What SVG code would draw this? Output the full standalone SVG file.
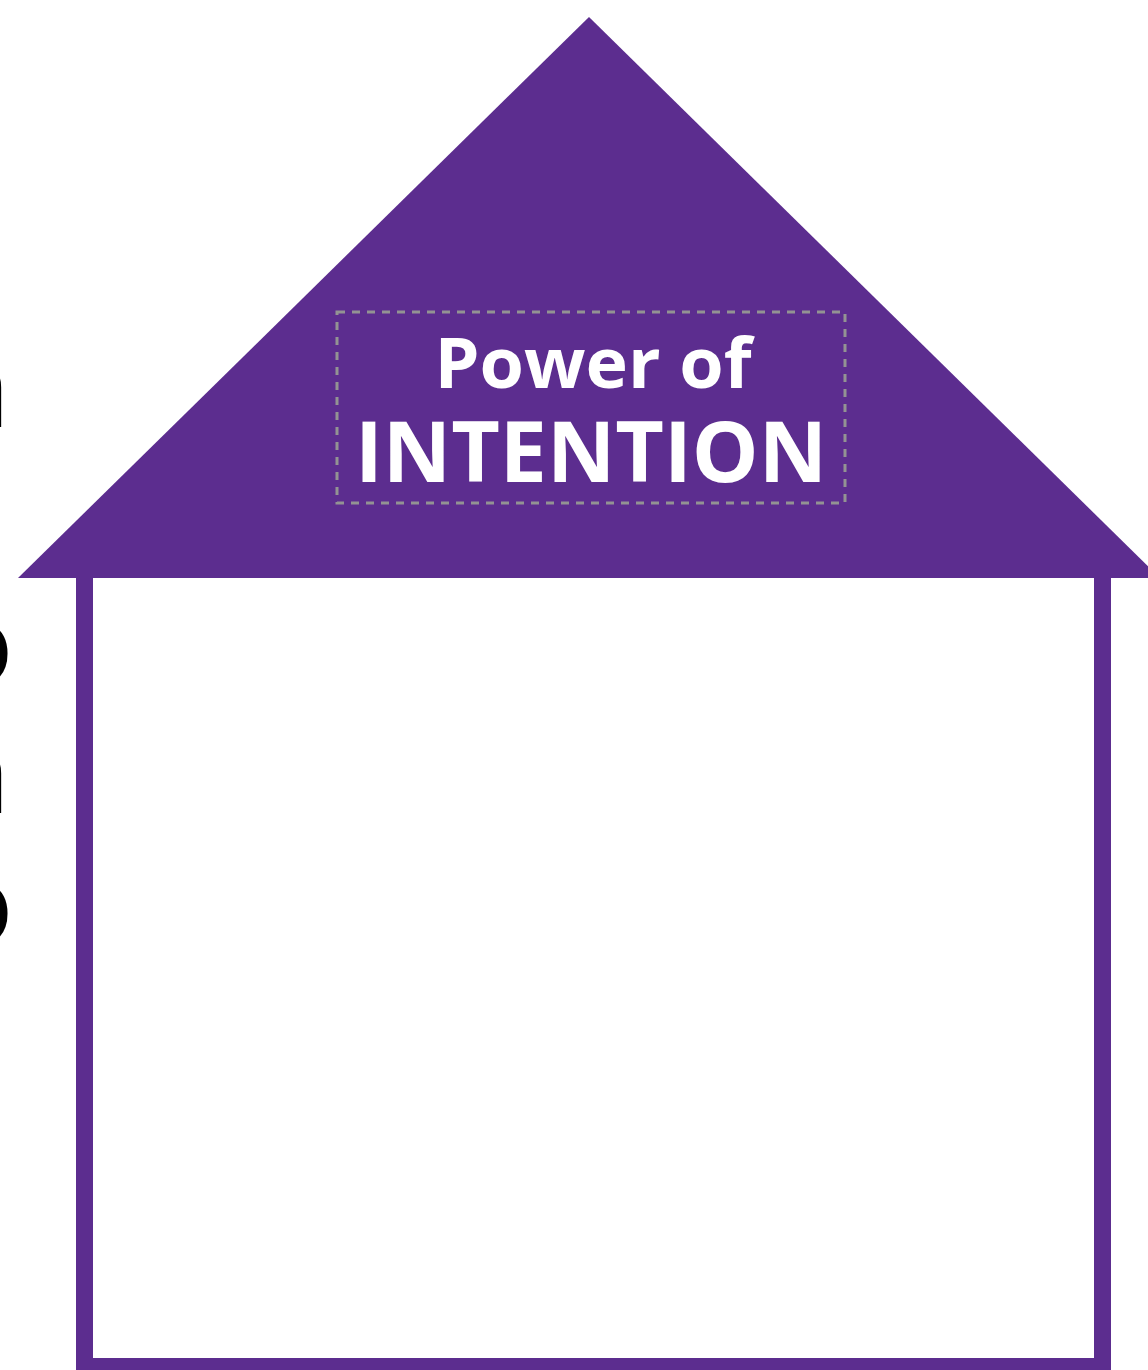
<svg xmlns="http://www.w3.org/2000/svg" width="1148" height="1370" viewBox="0 0 1148 1370">
  <style>
    .edge { font-family: "Open Sans", "Liberation Sans", sans-serif; font-size: 112px; font-weight: 600; fill: #000; text-anchor: end; }
    .title { font-family: "Open Sans", "Liberation Sans", sans-serif; font-weight: 700; fill: #ffffff; text-anchor: middle; }
  </style>
  <rect width="1148" height="1370" fill="#ffffff"/>
  <g id="edge-text">
    <text class="edge" x="10" y="427">n</text>
    <text class="edge" x="13" y="684">o</text>
    <text class="edge" x="10" y="813">n</text>
    <text class="edge" x="13" y="944">o</text>
  </g>
  <g id="house-body">
    <rect x="84.5" y="560" width="1018" height="806.5" fill="none" stroke="#5c2d8f" stroke-width="17"/>
  </g>
  <g id="roof">
    <polygon points="589,17 18,578 1160,578" fill="#5c2d8f"/>
    <rect x="337" y="312" width="508" height="191" fill="none" stroke="#939393" stroke-width="3" stroke-dasharray="8 7"/>
    <text class="title" x="593" y="388" font-size="70" textLength="317" lengthAdjust="spacingAndGlyphs">Power of</text>
    <text class="title" x="591" y="482" font-size="84" textLength="472" lengthAdjust="spacingAndGlyphs">INTENTION</text>
  </g>
</svg>
